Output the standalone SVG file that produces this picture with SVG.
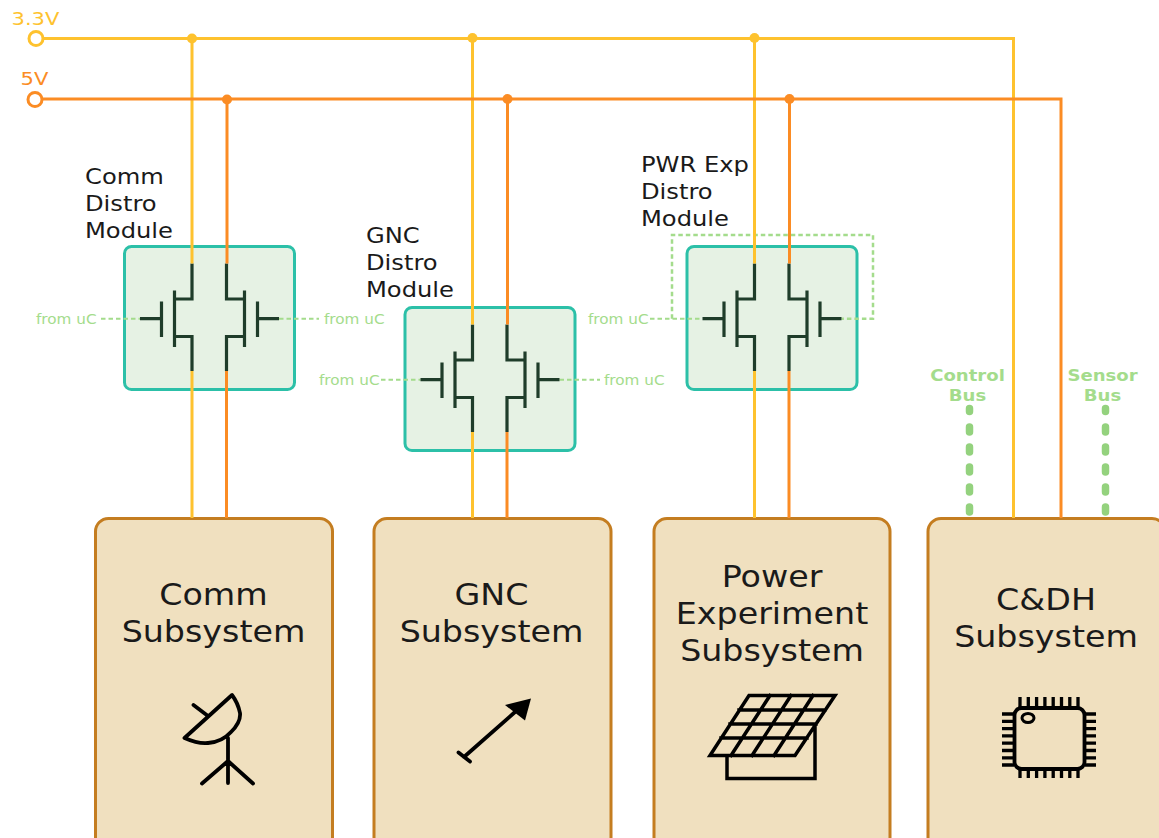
<svg xmlns="http://www.w3.org/2000/svg" width="1159" height="838" viewBox="0 0 1159 838">
<style>
text{font-family:"DejaVu Sans",sans-serif}
.y{fill:none;stroke:#fec22e;stroke-width:3}
.o{fill:none;stroke:#fb8c24;stroke-width:3}
.dot-y{fill:#fec22e}.dot-o{fill:#fb8c24}
.sub{fill:#f0e0bf;stroke:#c47d20;stroke-width:3}
.mod{fill:#e6f2e4;stroke:#2cc0a8;stroke-width:3}
.fet{fill:none;stroke:#1f3d2a;stroke-width:3.2}
.gl{fill:none;stroke:#a4dc8c;stroke-width:2;stroke-dasharray:4.500 3}
.box{fill:none;stroke:#a4dc8c;stroke-width:2.500;stroke-dasharray:4.500 3}
.bus{fill:none;stroke:#94d27e;stroke-width:7.500;stroke-linecap:round;stroke-dasharray:5 15}
.t1{font-size:22px;fill:#1a1a1a}
.t2{font-size:30px;fill:#1a1a1a;text-anchor:middle}
.uc{font-size:14px;fill:#a4dc8c}
.bl{font-size:16px;font-weight:bold;fill:#a4dc8c;text-anchor:middle}
.ic{fill:none;stroke:#000;stroke-width:3.800;stroke-linejoin:round;stroke-linecap:round}
.ict{fill:none;stroke:#000;stroke-width:3.500;stroke-linejoin:miter;stroke-linecap:square}
</style>
<defs>
<g id="fets">
<path class="fet" d="M192 263.500V299H174.500M174.500 290.500V347M174.500 336.500H192V371M161.500 301.500V337M140 318.700H161.500"/>
<path class="fet" d="M226.500 263.500V299H244.500M244.500 290.500V347M244.500 336.500H226.500V371M257.500 301.500V337M279 318.700H257.500"/>
</g>
</defs>
<g id="comm-module">
<rect class="mod" x="124.500" y="246.500" width="170" height="143" rx="7"/>
<path class="gl" d="M101 318.700H140M279 318.700H319"/>
<use href="#fets"/>
<text class="t1" transform="matrix(1.1 0 0 1 85 184)">Comm</text><text class="t1" transform="matrix(1.1 0 0 1 85 211)">Distro</text><text class="t1" transform="matrix(1.1 0 0 1 85 238)">Module</text>
<text class="uc" transform="matrix(1.09 0 0 1 36 324)">from uC</text><text class="uc" transform="matrix(1.09 0 0 1 324 324)">from uC</text>
</g>
<g id="gnc-module">
<rect class="mod" x="405" y="307.500" width="170" height="143" rx="7"/>
<path class="gl" d="M381 379.700H420.500M559.500 379.700H600"/>
<use href="#fets" transform="translate(280.500 61)"/>
<text class="t1" transform="matrix(1.1 0 0 1 366 243)">GNC</text><text class="t1" transform="matrix(1.1 0 0 1 366 270)">Distro</text><text class="t1" transform="matrix(1.1 0 0 1 366 297)">Module</text>
<text class="uc" transform="matrix(1.09 0 0 1 319 385)">from uC</text><text class="uc" transform="matrix(1.09 0 0 1 604 385)">from uC</text>
</g>
<g id="pwr-module">
<rect class="mod" x="687" y="246.500" width="170" height="143" rx="7"/>
<path class="box" d="M672 318.700V235H873V318.700H841.500"/>
<path class="gl" d="M650 318.700H702.500"/>
<use href="#fets" transform="translate(562.500 0)"/>
<text class="t1" transform="matrix(1.1 0 0 1 641 172)">PWR Exp</text><text class="t1" transform="matrix(1.1 0 0 1 641 199)">Distro</text><text class="t1" transform="matrix(1.1 0 0 1 641 226)">Module</text>
<text class="uc" transform="matrix(1.09 0 0 1 588 324)">from uC</text>
</g>
<g id="comm-subsystem">
<rect class="sub" x="95.500" y="518.500" width="237" height="340" rx="13"/>
<text class="t2" transform="matrix(1.11 0 0 1 213.500 605)">Comm</text><text class="t2" transform="matrix(1.11 0 0 1 213.500 642)">Subsystem</text>
<path class="ic" d="M232 695L184.500 738Q198 744 208 743Q222 742 231 732Q241 722 240 713Q238 703 232 695ZM193.500 705L208 716M228 738V783M228 761L202 783.500M228 761L253 783.500"/>
</g>
<g id="gnc-subsystem">
<rect class="sub" x="374" y="518.500" width="237" height="340" rx="13"/>
<text class="t2" transform="matrix(1.11 0 0 1 491.500 605)">GNC</text><text class="t2" transform="matrix(1.11 0 0 1 491.500 642)">Subsystem</text>
<path class="ic" d="M464 757L515 712M458.500 752.500L470 761.500"/>
<path d="M505 705L531 698.500L525 720.500Z" fill="#000"/>
</g>
<g id="power-subsystem">
<rect class="sub" x="654" y="518.500" width="236" height="340" rx="13"/>
<text class="t2" transform="matrix(1.11 0 0 1 772 587)">Power</text><text class="t2" transform="matrix(1.11 0 0 1 772 624)">Experiment</text><text class="t2" transform="matrix(1.11 0 0 1 772 661)">Subsystem</text>
<path class="ict" d="M749 695.500H835L795 755.500H710ZM739 710H825M730 724H816M721 738H807M770 695.500L731 755.500M791 695.500L752 755.500M813 695.500L774 755.500M727 755.500V778.500H815V725"/>
</g>
<g id="cdh-subsystem">
<rect class="sub" x="928" y="518.500" width="237" height="340" rx="13"/>
<text class="t2" transform="matrix(1.11 0 0 1 1046 610)">C&amp;DH</text><text class="t2" transform="matrix(1.11 0 0 1 1046 647)">Subsystem</text>
<rect x="1014.500" y="708" width="70" height="61" rx="7" fill="none" stroke="#000" stroke-width="3.800"/>
<ellipse cx="1028" cy="718" rx="6" ry="4.500" fill="none" stroke="#000" stroke-width="3"/>
<path fill="none" stroke="#000" stroke-width="3.300" d="M1020 697V708M1028.300 697V708M1036.600 697V708M1044.900 697V708M1053.200 697V708M1061.500 697V708M1069.800 697V708M1078 697V708M1020 769V778M1028.300 769V778M1036.600 769V778M1044.900 769V778M1053.200 769V778M1061.500 769V778M1069.800 769V778M1078 769V778M1002 714H1014M1002 721.300H1014M1002 728.600H1014M1002 735.900H1014M1002 743.200H1014M1002 750.500H1014M1002 757.800H1014M1002 765H1014M1085 714H1096M1085 721.300H1096M1085 728.600H1096M1085 735.900H1096M1085 743.200H1096M1085 750.500H1096M1085 757.800H1096M1085 765H1096"/>
</g>
<g id="connectors">
<path class="y" d="M43 38.500H1013.500V518M192 38V263.500M192 371V518M472.500 38V324.500M472.500 432V518M754.500 38V263.500M754.500 371V518"/>
<path class="o" d="M42 99H1061V518M227 99V263.500M226.500 371V518M507.500 99V324.500M507 432V518M789.500 99V263.500M789 371V518"/>
<path class="bus" d="M969.500 408.500V411.500M969.500 427V516M1105.500 408.500V411.500M1105.500 427V516"/>
<circle class="dot-y" cx="192" cy="38.500" r="5"/><circle class="dot-y" cx="472.500" cy="38" r="5"/><circle class="dot-y" cx="754.500" cy="38" r="5"/>
<circle class="dot-o" cx="227" cy="99.500" r="5"/><circle class="dot-o" cx="507.500" cy="99" r="5"/><circle class="dot-o" cx="789.500" cy="99" r="5"/>
<circle cx="36" cy="38.500" r="7" fill="#fff" stroke="#fec22e" stroke-width="3"/>
<circle cx="35" cy="99.500" r="7" fill="#fff" stroke="#fb8c24" stroke-width="3"/>
</g>
<g id="rail-labels">
<text transform="matrix(1.17 0 0 1 11.500 25)" fill="#fec22e" font-size="18">3.3V</text>
<text transform="matrix(1.17 0 0 1 20.500 85)" fill="#fb8c24" font-size="18">5V</text>
</g>
<g id="bus-labels">
<text class="bl" transform="matrix(1.13 0 0 1 967.500 381)">Control</text><text class="bl" transform="matrix(1.13 0 0 1 967.500 401)">Bus</text>
<text class="bl" transform="matrix(1.13 0 0 1 1102.500 381)">Sensor</text><text class="bl" transform="matrix(1.13 0 0 1 1102.500 401)">Bus</text>
</g>
</svg>
